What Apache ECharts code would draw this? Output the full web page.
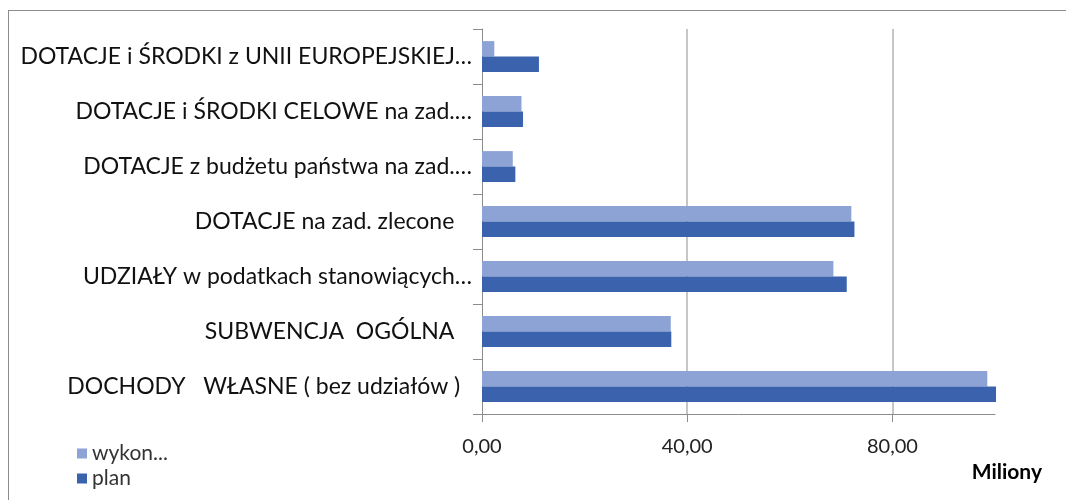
<!DOCTYPE html>
<html>
<head>
    <meta charset="utf-8">
    <title>Dochody</title>
    <script src="https://cdn.jsdelivr.net/npm/echarts@6/dist/echarts.min.js"></script>
</head>
<body style="margin: 0;height:100%;background:#fff;">
<div style="position:absolute;left:8px;top:10px;width:1200px;height:600px;border:1px solid #8c8c8c;box-sizing:border-box;"></div>
<div id="main" style="position:absolute;left:0;top:0;width: 1066px;height: 500px;"></div>
<script type="text/javascript">
    // kategorie od góry do dołu
    var categories = [
        'DOTACJE i ŚRODKI z UNII EUROPEJSKIEJ…',
        'DOTACJE i ŚRODKI CELOWE na zad.…',
        'DOTACJE z budżetu państwa na zad.…',
        'DOTACJE na zad. zlecone   ',
        'UDZIAŁY w podatkach stanowiących…',
        'SUBWENCJA  OGÓLNA   ',
        'DOCHODY   WŁASNE ( bez udziałów )  '
    ];
    var wykonanie = [2.4, 7.7, 6.0, 72.0, 68.5, 36.8, 98.5];
    var plan = [11.1, 8.0, 6.5, 72.6, 71.1, 36.9, 100.2];
    var xTicks = [0, 40, 80];

    var myChart = echarts.init(document.getElementById('main'));
    var option = {
        animation: false,
        title: {
            text: 'Miliony',
            right: 19,
            top: 457,
            textStyle: {fontFamily: 'Lato', fontSize: 21, fontWeight: 'bold', color: '#000'}
        },
        legend: {
            orient: 'vertical',
            left: 72,
            top: 438,
            itemWidth: 10,
            itemHeight: 10,
            itemGap: 4,
            icon: 'rect',
            data: ['wykon...', 'plan'],
            textStyle: {fontFamily: 'Lato', fontSize: 21, color: '#333'}
        },
        grid: {
            left: 482,
            right: 71,
            top: 29,
            bottom: 86,
            containLabel: false
        },
        xAxis: {
            type: 'value',
            min: 0,
            max: 100,
            interval: 40,
            axisLine: {show: true, lineStyle: {color: '#8c8c8c'}},
            axisTick: {show: true, length: 8, lineStyle: {color: '#8c8c8c'}},
            axisLabel: {
                showMaxLabel: false,
                margin: 33,
                fontFamily: 'Lato',
                fontSize: 20,
                color: '#222',
                verticalAlign: 'middle',
                formatter: function (v) {
                    return xTicks.indexOf(v) >= 0 ? v.toFixed(2).replace('.', ',') : '';
                }
            },
            splitLine: {show: true, showMinLine: false, showMaxLine: false, lineStyle: {color: '#b3b3b3', width: 1.5}}
        },
        yAxis: {
            type: 'category',
            inverse: true,
            data: categories,
            axisLine: {show: true, lineStyle: {color: '#8c8c8c'}},
            axisTick: {show: true, length: 9, lineStyle: {color: '#8c8c8c'}},
            axisLabel: {
                margin: 10,
                fontFamily: 'Lato',
                fontSize: 23,
                color: '#111'
            }
        },
        series: [
            {
                name: 'wykon...',
                type: 'bar',
                data: wykonanie,
                barGap: '0%',
                barCategoryGap: '44%',
                clip: false,
                itemStyle: {color: '#8ea3d5'}
            },
            {
                name: 'plan',
                type: 'bar',
                data: plan,
                clip: false,
                itemStyle: {color: '#3a62ad'}
            }
        ]
    };
    myChart.setOption(option);
</script>
</body>
</html>
